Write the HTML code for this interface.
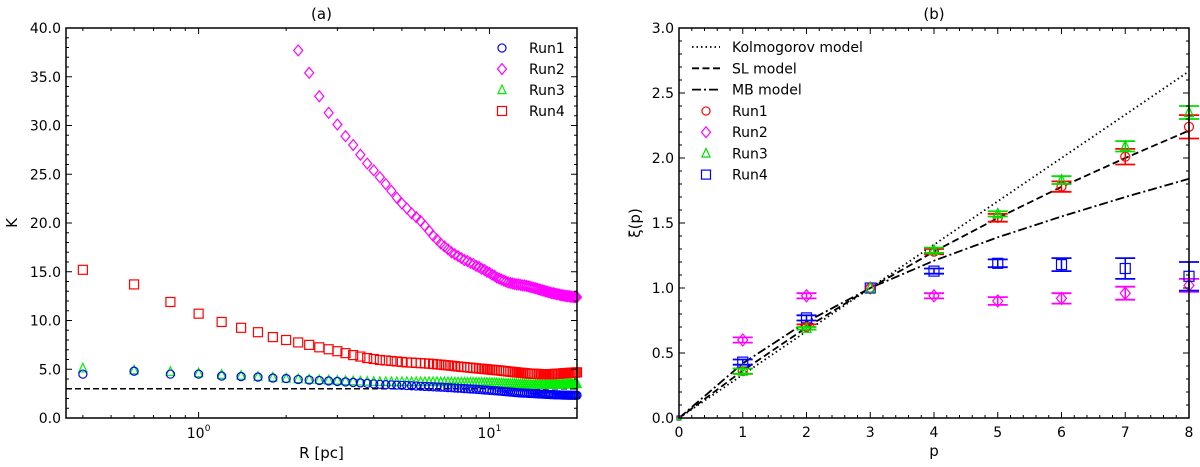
<!DOCTYPE html>
<html><head><meta charset="utf-8"><style>
html,body{margin:0;padding:0;background:#fff;}
svg{display:block;font-family:"DejaVu Sans","Liberation Sans",sans-serif;}
</style></head><body>
<svg id="chart" width="1200" height="467" viewBox="0 0 1200 467" xmlns="http://www.w3.org/2000/svg">
<g id="pa"></g>
<g id="pb"></g>
</svg>
<script>
// ---------- Panel (a) data ----------
const rValues = [0.4,0.6,0.8,1.0,1.2,1.4,1.6,1.8,2.0,2.2,2.4,2.6,2.8,3.0,3.2,3.4,3.6,3.8,4.0,4.2,4.4,4.6,4.8,5.0,5.2,5.4,5.6,5.8,6.0,6.2,6.4,6.6,6.8,7.0,7.2,7.4,7.6,7.8,8.0,8.2,8.4,8.6,8.8,9.0,9.2,9.4,9.6,9.8,10.0,10.2,10.4,10.6,10.8,11.0,11.2,11.4,11.6,11.8,12.0,12.2,12.4,12.6,12.8,13.0,13.2,13.4,13.6,13.8,14.0,14.2,14.4,14.6,14.8,15.0,15.2,15.4,15.6,15.8,16.0,16.2,16.4,16.6,16.8,17.0,17.2,17.4,17.6,17.8,18.0,18.2,18.4,18.6,18.8,19.0,19.2,19.4,19.6,19.8,20.0];
const kRun1 = [4.5,4.8,4.5,4.5,4.3,4.25,4.2,4.1,4.05,3.95,3.9,3.85,3.8,3.75,3.7,3.65,3.6,3.55,3.5,3.45,3.42,3.4,3.37,3.35,3.33,3.3,3.28,3.26,3.24,3.22,3.2,3.18,3.16,3.14,3.12,3.1,3.08,3.06,3.04,3.02,3.0,2.98,2.96,2.94,2.92,2.9,2.88,2.86,2.84,2.82,2.8,2.78,2.76,2.74,2.72,2.7,2.68,2.66,2.64,2.62,2.6,2.58,2.57,2.56,2.55,2.54,2.53,2.52,2.51,2.5,2.49,2.48,2.47,2.46,2.45,2.44,2.43,2.42,2.41,2.4,2.4,2.39,2.38,2.38,2.37,2.37,2.36,2.36,2.35,2.35,2.35,2.34,2.34,2.34,2.33,2.33,2.33,2.33,2.33];
const kRun2 = [null,null,null,null,null,null,null,null,null,37.7,35.4,33.0,31.3,30.1,28.9,28.0,27.0,26.1,25.4,24.7,24.0,23.3,22.6,22.0,21.5,21.0,20.6,20.2,19.7,19.2,18.7,18.3,17.9,17.6,17.3,17.0,16.8,16.6,16.4,16.2,16.1,15.9,15.8,15.6,15.5,15.3,15.2,15.0,14.9,14.7,14.6,14.4,14.3,14.2,14.1,14.0,13.9,13.85,13.8,13.75,13.7,13.7,13.65,13.6,13.6,13.55,13.5,13.45,13.4,13.35,13.3,13.25,13.2,13.15,13.1,13.05,13.0,12.95,12.9,12.85,12.8,12.8,12.75,12.7,12.7,12.65,12.6,12.6,12.55,12.55,12.5,12.5,12.5,12.45,12.45,12.4,12.4,12.4,12.4];
const kRun3 = [5.1,4.9,4.75,4.6,4.45,4.35,4.25,4.15,4.05,4.0,3.95,3.9,3.87,3.84,3.81,3.78,3.76,3.74,3.72,3.71,3.7,3.7,3.7,3.7,3.7,3.7,3.7,3.7,3.7,3.7,3.7,3.7,3.69,3.69,3.68,3.68,3.67,3.67,3.66,3.66,3.65,3.65,3.64,3.64,3.63,3.63,3.62,3.62,3.61,3.6,3.59,3.58,3.57,3.56,3.55,3.54,3.53,3.52,3.51,3.5,3.49,3.48,3.47,3.46,3.45,3.44,3.43,3.42,3.41,3.4,3.4,3.4,3.4,3.4,3.4,3.4,3.4,3.4,3.4,3.4,3.41,3.41,3.42,3.42,3.43,3.43,3.44,3.44,3.45,3.45,3.46,3.46,3.47,3.47,3.48,3.48,3.49,3.49,3.5];
const kRun4 = [15.2,13.7,11.9,10.7,9.85,9.25,8.8,8.3,8.0,7.75,7.5,7.25,7.05,6.85,6.65,6.45,6.3,6.15,6.05,5.95,5.9,5.85,5.8,5.75,5.7,5.68,5.65,5.62,5.6,5.57,5.54,5.5,5.47,5.43,5.4,5.36,5.32,5.28,5.25,5.22,5.19,5.16,5.13,5.1,5.07,5.05,5.02,5.0,4.97,4.95,4.92,4.9,4.88,4.85,4.82,4.8,4.77,4.75,4.72,4.7,4.68,4.66,4.64,4.62,4.6,4.58,4.56,4.55,4.54,4.53,4.52,4.52,4.51,4.5,4.5,4.5,4.5,4.5,4.5,4.5,4.5,4.51,4.52,4.53,4.54,4.55,4.56,4.57,4.58,4.59,4.6,4.61,4.62,4.63,4.64,4.65,4.66,4.67,4.68];
const kReference = 3.0;
const aYTicks = [0,5,10,15,20,25,30,35,40];
const aYTickLabels = ["0.0","5.0","10.0","15.0","20.0","25.0","30.0","35.0","40.0"];
const aXMajor = [1,10];

// ---------- Panel (b) data ----------
const pModel = [0,1,2,3,4,5,6,7,8];
const kolmogorov = [0,0.333,0.667,1.0,1.333,1.667,2.0,2.333,2.667];
const slModel = [0,0.364,0.696,1.0,1.280,1.538,1.778,2.0,2.211];
const mbModel = [0,0.42,0.74,1.0,1.21,1.39,1.55,1.70,1.84];
const pRuns = [0,1,2,3,4,5,6,7,8];
const xiRun1 = [0,0.36,0.70,1.0,1.28,1.54,1.78,2.01,2.24];
const errRun1 = [0,0.02,0.02,0.0,0.02,0.03,0.04,0.06,0.09];
const xiRun2 = [0,0.60,0.94,1.0,0.94,0.90,0.92,0.96,1.02];
const errRun2 = [0,0.02,0.02,0.0,0.02,0.03,0.04,0.05,0.05];
const xiRun3 = [0,0.36,0.69,1.0,1.29,1.57,1.83,2.09,2.35];
const errRun3 = [0,0.02,0.01,0.0,0.02,0.02,0.03,0.04,0.05];
const xiRun4 = [0,0.43,0.77,1.0,1.13,1.19,1.18,1.15,1.09];
const errRun4 = [0,0.02,0.02,0.0,0.02,0.03,0.05,0.08,0.11];
const bYTicks = [0,0.5,1,1.5,2,2.5,3];
const bYTickLabels = ["0.0","0.5","1.0","1.5","2.0","2.5","3.0"];
const bXTicks = [0,1,2,3,4,5,6,7,8];

const NS = "http://www.w3.org/2000/svg";
function mk(parent, tag, attrs, text){
  const e = document.createElementNS(NS, tag);
  for (const k in attrs) e.setAttribute(k, attrs[k]);
  if (text !== undefined) e.textContent = text;
  parent.appendChild(e);
  return e;
}

// ===== Panel A =====
const A = {l:66, r:577, t:28, b:418};
const xMinA = Math.log10(0.35), xMaxA = Math.log10(20);
const xA = v => A.l + (Math.log10(v) - xMinA) / (xMaxA - xMinA) * (A.r - A.l);
const yA = v => A.b - v / 40 * (A.b - A.t);
const pa = document.getElementById('pa');

const seriesA = [
  {vals:kRun3, color:'#00ee00', shape:'tri', name:'run3'},
  {vals:kRun1, color:'#0000ff', shape:'circle', name:'run1'},
  {vals:kRun4, color:'#ff0000', shape:'square', name:'run4'},
  {vals:kRun2, color:'#ff00ff', shape:'diamond', name:'run2'}
];
function marker(g, shape, cx, cy, color, s){
  if (shape === 'circle') return mk(g,'circle',{cx:cx,cy:cy,r:s*0.45,fill:'none',stroke:color,'stroke-width':1.2});
  if (shape === 'square') return mk(g,'rect',{x:cx-s/2,y:cy-s/2,width:s,height:s,fill:'none',stroke:color,'stroke-width':1.2});
  if (shape === 'diamond') return mk(g,'polygon',{points:`${cx},${cy-s*0.6} ${cx+s*0.5},${cy} ${cx},${cy+s*0.6} ${cx-s*0.5},${cy}`,fill:'none',stroke:color,'stroke-width':1.2});
  return mk(g,'polygon',{points:`${cx},${cy-s*0.55} ${cx+s*0.45},${cy+s*0.4} ${cx-s*0.45},${cy+s*0.4}`,fill:'none',stroke:color,'stroke-width':1.2});
}
const ref = mk(pa,'line',{x1:A.l,x2:A.r,y1:yA(kReference),y2:yA(kReference),stroke:'#000','stroke-width':1.5,'stroke-dasharray':'6,3'});


seriesA.forEach(s=>{
  const g = mk(pa,'g',{});
  
  
  s.vals.forEach((v,i)=>{
    if (v === null) return;
    const m = marker(g, s.shape, xA(rValues[i]), yA(v), s.color, 9);
    
    
  });
});
const fa = mk(pa,'rect',{x:A.l,y:A.t,width:A.r-A.l,height:A.b-A.t,fill:'none',stroke:'#000','stroke-width':1.5});


for (let v=0; v<=40; v+=1){
  const len = v%5===0 ? 6 : 3;
  mk(pa,'line',{x1:A.l,x2:A.l+len,y1:yA(v),y2:yA(v),stroke:'#000','stroke-width':1});
  mk(pa,'line',{x1:A.r,x2:A.r-len,y1:yA(v),y2:yA(v),stroke:'#000','stroke-width':1});
}
aYTicks.forEach((v,i)=>{
  const t = mk(pa,'text',{x:A.l-5,y:yA(v)+5,'text-anchor':'end','font-size':14},aYTickLabels[i]);
  
  
});
const minorA = [0.4,0.5,0.6,0.7,0.8,0.9,2,3,4,5,6,7,8,9,20];
minorA.forEach(v=>{
  mk(pa,'line',{x1:xA(v),x2:xA(v),y1:A.b,y2:A.b-3,stroke:'#000','stroke-width':1});
  mk(pa,'line',{x1:xA(v),x2:xA(v),y1:A.t,y2:A.t+3,stroke:'#000','stroke-width':1});
});
aXMajor.forEach((v,i)=>{
  mk(pa,'line',{x1:xA(v),x2:xA(v),y1:A.b,y2:A.b-6,stroke:'#000','stroke-width':1});
  mk(pa,'line',{x1:xA(v),x2:xA(v),y1:A.t,y2:A.t+6,stroke:'#000','stroke-width':1});
  const t = mk(pa,'text',{x:xA(v)-3,y:438,'text-anchor':'middle','font-size':14},'10');
  
  
  mk(pa,'text',{x:xA(v)+9,y:431,'text-anchor':'middle','font-size':9},String(i));
});
let t;
t = mk(pa,'text',{x:(A.l+A.r)/2,y:19,'text-anchor':'middle','font-size':15},'(a)');
 
t = mk(pa,'text',{x:(A.l+A.r)/2,y:458,'text-anchor':'middle','font-size':15},'R [pc]');
 
t = mk(pa,'text',{x:17,y:223,'text-anchor':'middle','font-size':15,transform:'rotate(-90 17 223)'},'K');
 
const legA = [['circle','#0000ff','Run1'],['diamond','#ff00ff','Run2'],['tri','#00ee00','Run3'],['square','#ff0000','Run4']];
legA.forEach((L,i)=>{
  const g = mk(pa,'g',{});
  
  
  const y = 48 + i*21;
  marker(g, L[0], 502, y, L[1], 9);
  mk(g,'text',{x:529,y:y+5,'font-size':14},L[2]);
});

// ===== Panel B =====
const B = {l:679, r:1189, t:28, b:418};
const xB = v => B.l + v/8*(B.r-B.l);
const yB = v => B.b - v/3*(B.b-B.t);
const pb = document.getElementById('pb');
function poly(arrX, arrY, dash, name){
  const pts = arrX.map((x,i)=>xB(x)+','+yB(arrY[i])).join(' ');
  const l = mk(pb,'polyline',{points:pts,fill:'none',stroke:'#000','stroke-width':1.8,'stroke-dasharray':dash});
  
  
}
poly(pModel,kolmogorov,'1.5,3','kolmogorov-model-line');
poly(pModel,slModel,'7,3.5','sl-model-line');
poly(pModel,mbModel,'9,3,2,3','mb-model-line');
const seriesB = [
  {v:xiRun2,e:errRun2,c:'#ff00ff',s:'diamond',n:'run2'},
  {v:xiRun4,e:errRun4,c:'#0000ff',s:'square',n:'run4'},
  {v:xiRun1,e:errRun1,c:'#ff0000',s:'circle',n:'run1'},
  {v:xiRun3,e:errRun3,c:'#00dd00',s:'tri',n:'run3'}
];
seriesB.forEach(S=>{
  const g = mk(pb,'g',{});
  
  
  S.v.forEach((v,i)=>{
    const cx = xB(pRuns[i]), cy = yB(v);
    const e = S.e[i];
    if (e > 0){
      const y1 = yB(v+e), y2 = yB(v-e);
      mk(g,'line',{x1:cx,x2:cx,y1:y1,y2:y2,stroke:S.c,'stroke-width':1.5});
      mk(g,'line',{x1:cx-10,x2:cx+10,y1:y1,y2:y1,stroke:S.c,'stroke-width':1.8});
      mk(g,'line',{x1:cx-10,x2:cx+10,y1:y2,y2:y2,stroke:S.c,'stroke-width':1.8});
    }
    const m = marker(g, S.s, cx, cy, S.c, pRuns[i]===0 ? 4 : 10);
    
    
  });
});
const fb = mk(pb,'rect',{x:B.l,y:B.t,width:B.r-B.l,height:B.b-B.t,fill:'none',stroke:'#000','stroke-width':1.5});


for (let k=0; k<=30; k++){
  const v = k/10, len = k%5===0 ? 6 : 3;
  mk(pb,'line',{x1:B.l,x2:B.l+len,y1:yB(v),y2:yB(v),stroke:'#000','stroke-width':1});
  mk(pb,'line',{x1:B.r,x2:B.r-len,y1:yB(v),y2:yB(v),stroke:'#000','stroke-width':1});
}
for (let k=0; k<=40; k++){
  const v = k/5, len = k%5===0 ? 6 : 3;
  mk(pb,'line',{x1:xB(v),x2:xB(v),y1:B.b,y2:B.b-len,stroke:'#000','stroke-width':1});
  mk(pb,'line',{x1:xB(v),x2:xB(v),y1:B.t,y2:B.t+len,stroke:'#000','stroke-width':1});
}
bYTicks.forEach((v,i)=>{
  const t2 = mk(pb,'text',{x:B.l-5,y:yB(v)+5,'text-anchor':'end','font-size':14},bYTickLabels[i]);
  
  
});
bXTicks.forEach(v=>{
  const t2 = mk(pb,'text',{x:xB(v),y:437,'text-anchor':'middle','font-size':14},String(v));
  
  
});
t = mk(pb,'text',{x:(B.l+B.r)/2,y:19,'text-anchor':'middle','font-size':15},'(b)');
 
t = mk(pb,'text',{x:(B.l+B.r)/2,y:456,'text-anchor':'middle','font-size':15},'p');
 
t = mk(pb,'text',{x:640,y:223,'text-anchor':'middle','font-size':15,transform:'rotate(-90 640 223)'},'ξ(p)');
 
const legLines = [['1.5,3','Kolmogorov model'],['7,3.5','SL model'],['9,3,2,3','MB model']];
legLines.forEach((L,i)=>{
  const g = mk(pb,'g',{});
  
  
  const y = 47 + i*21.3;
  mk(g,'line',{x1:692,x2:720,y1:y,y2:y,stroke:'#000','stroke-width':1.8,'stroke-dasharray':L[0]});
  mk(g,'text',{x:732,y:y+5,'font-size':14},L[1]);
});
const legB = [['circle','#ff0000','Run1'],['diamond','#ff00ff','Run2'],['tri','#00dd00','Run3'],['square','#0000ff','Run4']];
legB.forEach((L,i)=>{
  const g = mk(pb,'g',{});
  
  
  const y = 111 + i*21.2;
  marker(g, L[0], 706, y, L[1], 9);
  mk(g,'text',{x:732,y:y+5,'font-size':14},L[2]);
});
</script>
</body></html>
